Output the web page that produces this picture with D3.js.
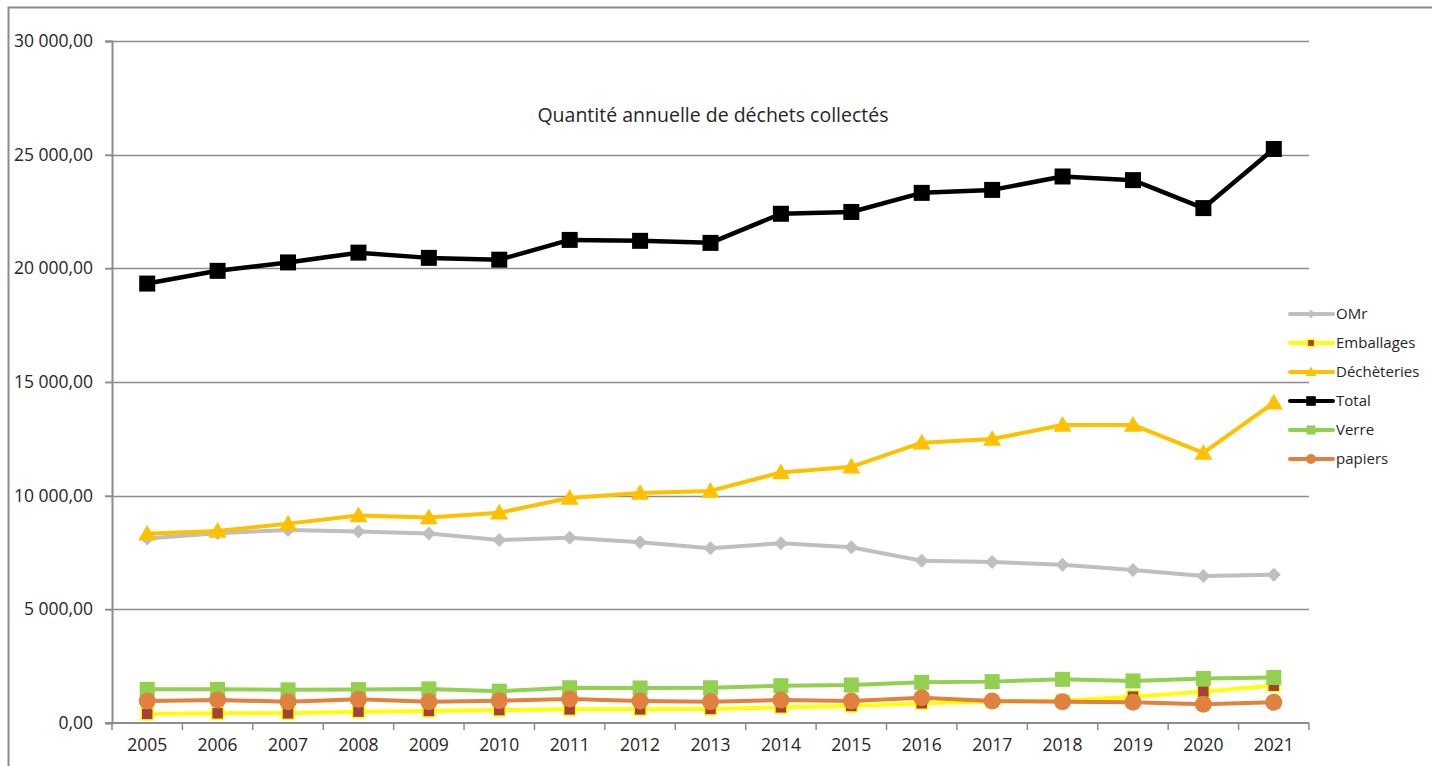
<!DOCTYPE html>
<html>
<head>
<meta charset="utf-8">
<script src="https://cdn.jsdelivr.net/npm/d3@7"></script>
<style>
  body { margin: 0; background: #fff; }
  text { font-family: "Open Sans", sans-serif; fill: #262626; }
</style>
</head>
<body>
<div id="target"></div>
<script>
var width = 1432,
    height = 766;

var years = ['2005', '2006', '2007', '2008', '2009', '2010', '2011', '2012', '2013',
    '2014', '2015', '2016', '2017', '2018', '2019', '2020', '2021'];

var omr = [8120, 8350, 8490, 8420, 8340, 8050, 8150, 7950, 7690, 7910, 7730, 7140, 7080, 6960, 6730, 6470, 6520];
var emballages = [400, 425, 425, 500, 530, 570, 600, 600, 620, 690, 750, 870, 940, 980, 1160, 1380, 1640];
var decheteries = [8330, 8450, 8770, 9130, 9040, 9250, 9900, 10120, 10210, 11020, 11270, 12330, 12490, 13110, 13110, 11880, 14090];
var total = [19330, 19890, 20260, 20690, 20460, 20380, 21250, 21210, 21120, 22400, 22480, 23320, 23450, 24040, 23880, 22650, 25250];
var verre = [1480, 1480, 1460, 1470, 1500, 1400, 1550, 1540, 1550, 1640, 1670, 1790, 1820, 1920, 1850, 1960, 2000];
var papiers = [970, 1010, 940, 1040, 940, 980, 1060, 970, 940, 1010, 970, 1110, 970, 940, 910, 820, 910];

var yTicks = [0, 5000, 10000, 15000, 20000, 25000, 30000];
var title = 'Quantité annuelle de déchets collectés';

// name, values, color, marker
var series = [
    {name: 'OMr', values: omr, color: '#BFBFBF', marker: 'diamond'},
    {name: 'Emballages', values: emballages, color: '#FFFF00', marker: 'squareRed'},
    {name: 'Déchèteries', values: decheteries, color: '#FFC000', marker: 'triangle'},
    {name: 'Total', values: total, color: '#000000', marker: 'square'},
    {name: 'Verre', values: verre, color: '#92D050', marker: 'square'},
    {name: 'papiers', values: papiers, color: '#E0813F', marker: 'circle'}
];

var plotLeft = 112, plotRight = 1309, plotTop = 41, plotBottom = 723;

var xScale = d3.scaleBand().domain(years).range([plotLeft, plotRight]);
var yScale = d3.scaleLinear().domain([0, 30000]).range([plotBottom, plotTop]);

var fr = d3.formatLocale({decimal: ',', thousands: ' ', grouping: [3], currency: ['', '€']});
var fmt = fr.format(',.2f');

var svg = d3.select('#target').append('svg')
    .attr('width', width)
    .attr('height', height);

// chart border
svg.append('path')
    .attr('d', 'M8.5,' + height + 'V7.5H' + width)
    .attr('fill', 'none')
    .attr('stroke', '#8c8c8c')
    .attr('stroke-width', 2);

// gridlines
svg.append('g')
    .selectAll('line')
    .data(yTicks.slice(1))
    .enter()
    .append('line')
    .attr('x1', plotLeft - 7)
    .attr('x2', plotRight)
    .attr('y1', function (d) { return Math.round(yScale(d)) + 0.5; })
    .attr('y2', function (d) { return Math.round(yScale(d)) + 0.5; })
    .attr('stroke', '#8c8c8c')
    .attr('stroke-width', 1.5);

// y axis
var yAxis = svg.append('g')
    .attr('transform', 'translate(' + plotLeft + ',0)')
    .call(d3.axisLeft(yScale).tickValues(yTicks).tickFormat(fmt).tickSize(7).tickPadding(12));
yAxis.select('.domain').attr('stroke', '#8c8c8c').attr('stroke-width', 2);
yAxis.selectAll('.tick line').attr('stroke', '#8c8c8c').attr('stroke-width', 1.5);
yAxis.selectAll('text').style('font-size', '17.5px').attr('fill', '#262626');

// x axis
var xAxis = svg.append('g')
    .attr('transform', 'translate(0,' + plotBottom + ')')
    .call(d3.axisBottom(xScale).tickSize(0).tickPadding(16));
xAxis.select('.domain').attr('stroke', '#8c8c8c').attr('stroke-width', 2).attr('d', 'M' + (plotLeft - 7) + ',0H' + plotRight);
xAxis.selectAll('text').style('font-size', '17.5px').attr('fill', '#262626');
xAxis.append('g')
    .selectAll('line')
    .data(d3.range(years.length + 1))
    .enter()
    .append('line')
    .attr('x1', function (i) { return plotLeft + i * xScale.bandwidth(); })
    .attr('x2', function (i) { return plotLeft + i * xScale.bandwidth(); })
    .attr('y1', 0)
    .attr('y2', 7)
    .attr('stroke', '#8c8c8c')
    .attr('stroke-width', 1.5);

// title
svg.append('text')
    .attr('x', 713)
    .attr('y', 122)
    .attr('text-anchor', 'middle')
    .style('font-size', '19.5px')
    .text(title);

function cx(i) { return xScale(years[i]) + xScale.bandwidth() / 2; }

function drawMarker(g, s, x, y, small) {
    var k = small ? 0.6 : 1;
    if (s.marker === 'diamond') {
        var r = 7 * k;
        g.append('path').attr('d', 'M' + x + ',' + (y - r) + 'L' + (x + r) + ',' + y + 'L' + x + ',' + (y + r) + 'L' + (x - r) + ',' + y + 'Z')
            .attr('fill', s.color);
    } else if (s.marker === 'squareRed') {
        var a = 12 * k;
        g.append('rect').attr('x', x - a / 2).attr('y', y - a / 2).attr('width', a).attr('height', a)
            .attr('fill', '#A5413D').attr('stroke', '#FFFF00').attr('stroke-width', 1.5);
    } else if (s.marker === 'triangle') {
        var t = 9 * k;
        g.append('path').attr('d', 'M' + x + ',' + (y - t) + 'L' + (x + t) + ',' + (y + t * 0.75) + 'L' + (x - t) + ',' + (y + t * 0.75) + 'Z')
            .attr('fill', s.color);
    } else if (s.marker === 'square') {
        var b = (s.name === 'Total' ? 16 : 15) * k;
        g.append('rect').attr('x', x - b / 2).attr('y', y - b / 2).attr('width', b).attr('height', b)
            .attr('fill', s.color);
    } else if (s.marker === 'circle') {
        g.append('circle').attr('cx', x).attr('cy', y).attr('r', 8.5 * k).attr('fill', s.color);
    }
}

var line = d3.line()
    .x(function (d, i) { return cx(i); })
    .y(function (d) { return yScale(d); });

series.forEach(function (s) {
    var g = svg.append('g');
    g.append('path')
        .datum(s.values)
        .attr('d', line)
        .attr('fill', 'none')
        .attr('stroke', s.color)
        .attr('stroke-width', s.name === 'Total' ? 4.5 : 4)
        .attr('stroke-linejoin', 'round');
    s.values.forEach(function (v, i) {
        drawMarker(g, s, cx(i), yScale(v), false);
    });
});

// legend
var legend = svg.append('g');
series.forEach(function (s, i) {
    var y = 314 + i * 29;
    var g = legend.append('g');
    g.append('line')
        .attr('x1', 1290).attr('x2', 1333)
        .attr('y1', y).attr('y2', y)
        .attr('stroke', s.color)
        .attr('stroke-width', 4)
        .attr('stroke-linecap', 'round');
    drawMarker(g, s, 1311, y, true);
    g.append('text')
        .attr('x', 1336)
        .attr('y', y + 5)
        .style('font-size', '15px')
        .text(s.name);
});
</script>
</body>
</html>
